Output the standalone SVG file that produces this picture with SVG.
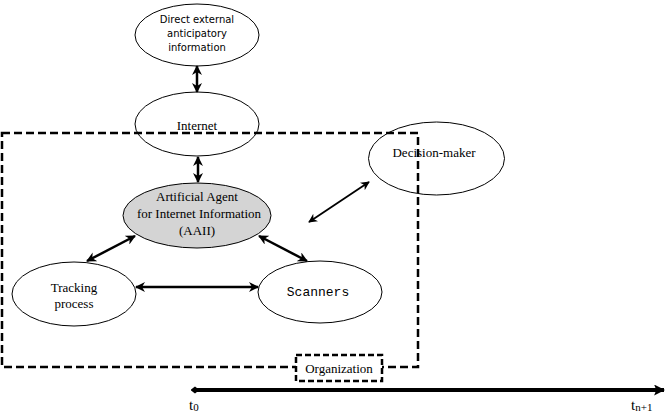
<svg xmlns="http://www.w3.org/2000/svg" width="665" height="414" viewBox="0 0 665 414">
<defs>
<marker id="ah" viewBox="0 0 10 10" refX="9" refY="5" markerWidth="10" markerHeight="10" markerUnits="userSpaceOnUse" orient="auto-start-reverse">
<path d="M0,0 L10,5 L0,10 L3,5 z" fill="#000"/>
</marker>
<marker id="ahs" viewBox="0 0 10 10" refX="9" refY="5" markerWidth="9" markerHeight="9" markerUnits="userSpaceOnUse" orient="auto-start-reverse">
<path d="M0,0 L10,5 L0,10 L3,5 z" fill="#000"/>
</marker>
<marker id="dia" viewBox="0 0 10 10" refX="5" refY="5" markerWidth="9" markerHeight="9" markerUnits="userSpaceOnUse" orient="auto">
<path d="M0,5 L5,1 L10,5 L5,9 z" fill="#000"/>
</marker>
<marker id="tip" viewBox="0 0 10 10" refX="9" refY="5" markerWidth="11" markerHeight="11" markerUnits="userSpaceOnUse" orient="auto">
<path d="M0,0 L10,5 L0,10 L2,5 z" fill="#000"/>
</marker>
</defs>
<style>
.el{fill:#fff;stroke:#000;stroke-width:1}
.rm{font-family:'Liberation Serif','DejaVu Serif','Times New Roman',serif;font-size:13px;fill:#000}
.sn{font-family:'DejaVu Sans','Liberation Sans',sans-serif;font-size:10px;fill:#000}
.mo{font-family:'Liberation Mono','Courier New',monospace;font-size:13px;fill:#000}
.tl{font-family:'Liberation Serif','DejaVu Serif','Times New Roman',serif;font-size:15px;fill:#000}
.sub{font-size:11px}
.dash{fill:none;stroke:#000;stroke-width:2.5;stroke-dasharray:8,4}
.arr{fill:none;stroke:#000;stroke-width:2.5}
</style>
<rect x="0" y="0" width="665" height="414" fill="#fff"/>
<g id="organization-boundary">
<rect class="dash" x="2" y="133" width="416" height="234"/>
</g>
<g id="direct-external">
<ellipse class="el" cx="197" cy="35" rx="62" ry="31"/>
<text class="sn" text-anchor="middle" x="197" y="23">Direct external</text>
<text class="sn" text-anchor="middle" x="197" y="37">anticipatory</text>
<text class="sn" text-anchor="middle" x="197" y="51">information</text>
</g>
<g id="internet">
<ellipse cx="197" cy="124" rx="62" ry="32" fill="none" stroke="#000" stroke-width="1"/>
<text class="rm" text-anchor="middle" x="197" y="130">Internet</text>
</g>
<g id="aaii">
<ellipse cx="197" cy="215.5" rx="74" ry="32.5" fill="#d4d4d4" stroke="#000" stroke-width="1"/>
<text class="rm" text-anchor="middle" x="197" y="201">Artificial Agent</text>
<text class="rm" text-anchor="middle" x="199" y="218">for Internet Information</text>
<text class="rm" text-anchor="middle" x="197" y="235">(AAII)</text>
</g>
<g id="tracking">
<ellipse class="el" cx="74" cy="294" rx="62" ry="32"/>
<text class="rm" text-anchor="middle" x="74" y="292">Tracking</text>
<text class="rm" text-anchor="middle" x="74" y="308">process</text>
</g>
<g id="scanners">
<ellipse class="el" cx="320" cy="292" rx="62" ry="31"/>
<text class="mo" text-anchor="middle" x="318" y="296">Scanners</text>
</g>
<g id="decision-maker">
<ellipse cx="436.5" cy="158.5" rx="68" ry="36.5" fill="none" stroke="#000" stroke-width="1"/>
<text class="rm" text-anchor="middle" x="434" y="157">Decision-maker</text>
</g>
<g id="organization-label">
<rect x="296" y="355" width="86" height="26" fill="#fff" stroke="#000" stroke-width="2.5" stroke-dasharray="6,3"/>
<text class="rm" text-anchor="middle" x="339" y="373">Organization</text>
</g>
<g id="connectors">
<line class="arr" x1="197" y1="66" x2="197" y2="92" marker-start="url(#ah)" marker-end="url(#ah)"/>
<line class="arr" x1="198" y1="157" x2="198" y2="182" marker-start="url(#ah)" marker-end="url(#ah)"/>
<line class="arr" x1="135" y1="236" x2="87" y2="261" marker-start="url(#ah)" marker-end="url(#ah)"/>
<line class="arr" x1="259" y1="236" x2="307" y2="261" marker-start="url(#ah)" marker-end="url(#ah)"/>
<line class="arr" x1="136" y1="287" x2="258" y2="287" marker-start="url(#ah)" marker-end="url(#ah)"/>
<line x1="309" y1="222" x2="369" y2="182" stroke="#000" stroke-width="1.8" marker-start="url(#ahs)" marker-end="url(#ahs)"/>
</g>
<g id="timeline">
<line x1="195" y1="390" x2="664" y2="390" stroke="#000" stroke-width="4" marker-start="url(#dia)" marker-end="url(#tip)"/>
<text class="tl" x="189" y="410">t<tspan class="sub" dy="1">0</tspan></text>
<text class="tl" x="631" y="410">t<tspan class="sub" dy="1">n+1</tspan></text>
</g>
</svg>
